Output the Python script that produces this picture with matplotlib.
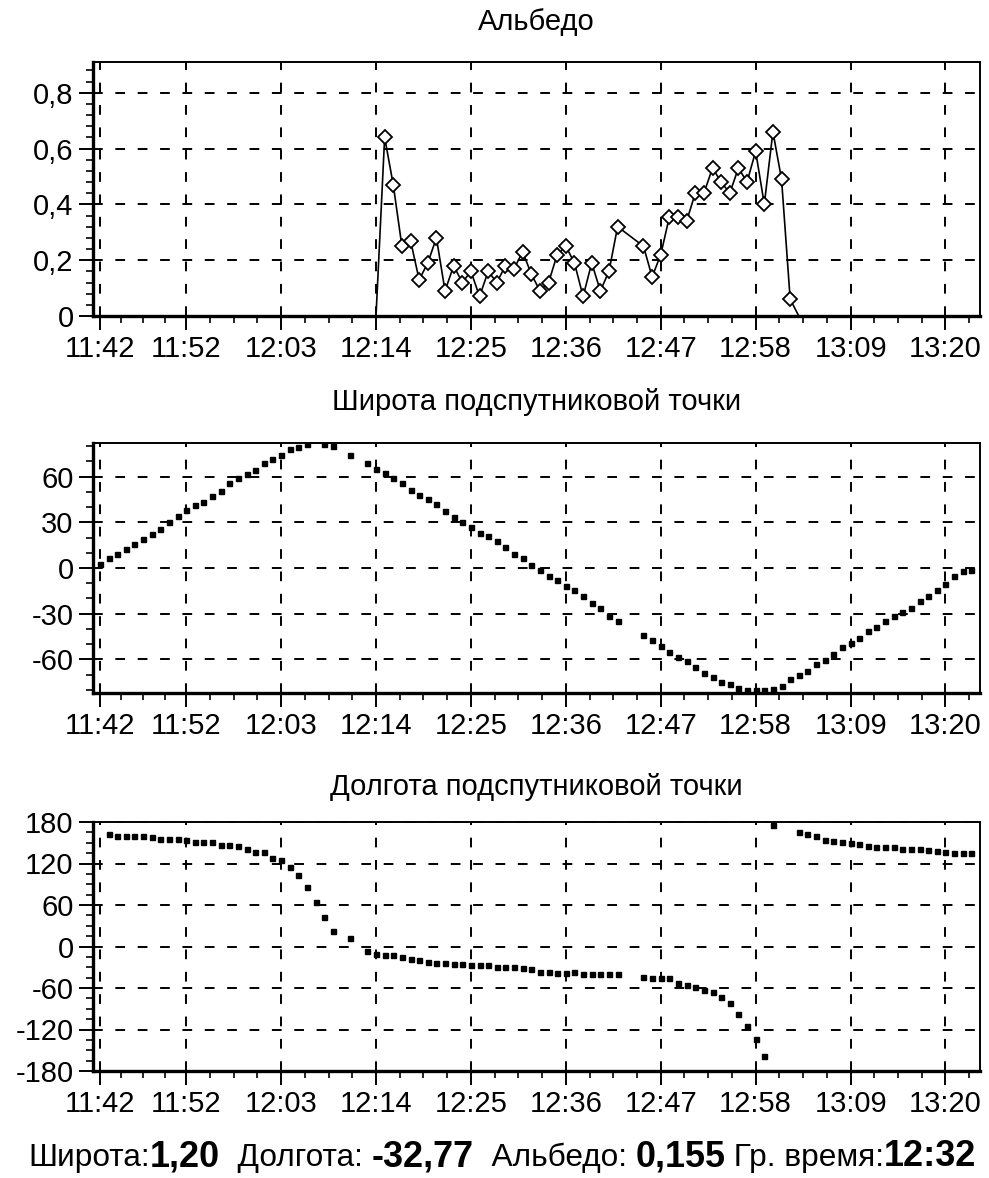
import matplotlib
matplotlib.use('Agg')
import matplotlib.pyplot as plt
from matplotlib.ticker import FixedLocator, MultipleLocator, FuncFormatter

plt.rcParams['font.family'] = ['Liberation Sans Narrow', 'Liberation Sans', 'DejaVu Sans']
plt.rcParams['axes.unicode_minus'] = False

# time axis in minutes after 11:42
tick_labels = ['11:42', '11:52', '12:03', '12:14', '12:25', '12:36',
               '12:47', '12:58', '13:09', '13:20']

albedo_t = [0, 32, 33, 34, 35, 36, 37, 38, 39, 40, 41, 42, 43, 44, 45, 46, 47,
            48, 49, 50, 51, 52, 53, 54, 55, 56, 57, 58, 59, 60,
            63, 64, 65, 66, 67, 68, 69, 70, 71, 72, 73, 74, 75, 76, 77, 78, 79, 80,
            81, 102]
albedo = [0, 0, 0.64, 0.47, 0.25, 0.27, 0.13, 0.19, 0.28, 0.09, 0.18, 0.12, 0.16,
          0.07, 0.16, 0.12, 0.18, 0.17, 0.23, 0.15, 0.09, 0.12, 0.22, 0.25, 0.19,
          0.07, 0.19, 0.09, 0.16, 0.32,
          0.25, 0.14, 0.22, 0.355, 0.355, 0.34, 0.44, 0.44, 0.53, 0.48, 0.44, 0.53,
          0.48, 0.59, 0.40, 0.66, 0.49, 0.06,
          0, 0]

lat_t = list(range(0, 25)) + [26, 27, 29] + list(range(31, 61)) + list(range(63, 102))
lat = [2.5, 6.5, 9.2, 12.5, 15.5, 19.0, 22.5, 25.7, 30.5, 33.8, 38.2, 41.5, 43.6,
       47.3, 50.8, 55.7, 58.9, 61.8, 64.4, 68.8, 71.4, 74.2, 78.1, 79.6, 81.2,
       81.2, 80.1, 74.2,
       68.8, 64.8, 62.6, 59.3, 55.7, 51.3, 48.0, 45.4, 42.1, 37.7, 33.4, 30.5,
       26.8, 22.9, 20.7, 17.4, 14.1, 9.4, 6.5, 2.2, -1.1, -5.0, -7.7, -11.6,
       -14.2, -18.6, -22.9, -26.2, -31.2, -35.0,
       -43.7, -47.4, -51.3, -55.3, -58.5, -61.2, -64.8, -68.7, -71.4, -74.9,
       -76.4, -78.6, -80.1, -80.1, -80.1, -79.7, -77.5, -73.1, -69.9, -67.7,
       -63.3, -60.5, -56.1, -51.7, -49.5, -46.0, -41.5, -38.6, -35.0, -31.7,
       -29.1, -26.2, -21.9, -18.1, -14.7, -10.3, -5.5, -2.2, -1.1]

lon_t = list(range(1, 28)) + [29] + list(range(31, 61)) + list(range(63, 79)) + list(range(81, 102))
lon = [162.6, 159.8, 159.8, 159.8, 159.8, 158.7, 155.0, 155.0, 155.0, 154.0,
       151.5, 151.5, 151.5, 146.7, 146.7, 145.3, 140.5, 137.1, 137.1, 128.4,
       125.1, 115.4, 103.4, 85.6, 64.8, 43.1, 22.8,
       11.9,
       -6.1, -10.8, -12.3, -12.3, -15.6, -18.5, -19.5, -22.0, -23.4, -23.4,
       -25.3, -25.3, -26.7, -26.7, -26.7, -29.2, -29.2, -29.2, -31.0, -33.0,
       -36.4, -36.4, -37.8, -37.8, -36.4, -39.8, -39.8, -39.8, -39.8, -39.8,
       -43.6, -46.0, -46.0, -46.0, -52.3, -55.7, -58.1, -62.9, -65.3, -73.5,
       -82.1, -97.6, -114.9, -134.2, -158.3, 175.7,
       166.0, 162.6, 159.8, 154.0, 153.0, 151.5, 150.1, 148.2, 145.3, 144.3,
       144.3, 144.3, 140.5, 140.5, 140.5, 139.5, 138.5, 137.1, 135.6, 135.6, 135.6]

info = [('Широта:', 'normal'), ('1,20', 'bold'), ('  Долгота: ', 'normal'),
        ('-32,77', 'bold'), ('  Альбедо: ', 'normal'), ('0,155', 'bold'),
        (' Гр. время:', 'normal'), ('12:32', 'bold')]

ticks = [int(s[:2]) * 60 + int(s[3:]) - (11 * 60 + 42) for s in tick_labels]
minors = []
for a, b in zip(ticks[:-1], ticks[1:]):
    minors += [a + (b - a) * k / 4 for k in (1, 2, 3)]
minors.append(ticks[-1] + (ticks[-1] - ticks[-2]) / 4)

W, H = 989, 1178
fig = plt.figure(figsize=(W / 100, H / 100), dpi=100)
FS = 21


def panel(top, bottom, title, title_y):
    ax = fig.add_axes([93 / W, 1 - bottom / H, (980 - 93) / W, (bottom - top) / H])
    ax.set_xlim(-0.8, 102)
    ax.xaxis.set_major_locator(FixedLocator(ticks))
    ax.xaxis.set_minor_locator(FixedLocator(minors))
    ax.set_xticklabels(tick_labels)
    ax.grid(True, which='major', color='k', linestyle=(0, (5, 6.5)), linewidth=1.4)
    ax.tick_params(axis='both', which='major', direction='out', length=10, width=1.4,
                   labelsize=FS, pad=4)
    ax.tick_params(axis='both', which='minor', direction='out', length=5, width=1.2)
    for s in ax.spines.values():
        s.set_linewidth(1.4)
    ax.spines['left'].set_linewidth(2.4)
    ax.spines['bottom'].set_linewidth(2.4)
    fig.text((93 + 980) / 2 / W, 1 - title_y / H, title, ha='center', va='center',
             fontsize=FS)
    return ax


ax1 = panel(62, 316, 'Альбедо', 22)
ax1.plot(albedo_t, albedo, color='k', lw=1.2, zorder=3)
mt = [t for t, v in zip(albedo_t, albedo) if v > 0]
mv = [v for v in albedo if v > 0]
ax1.plot(mt, mv, ls='none', marker='D', ms=7, mfc='white', mec='k', mew=1.3, zorder=4)
ax1.set_ylim(0, 0.91)
ax1.yaxis.set_major_locator(FixedLocator([0, 0.2, 0.4, 0.6, 0.8]))
ax1.yaxis.set_minor_locator(MultipleLocator(0.04))
ax1.yaxis.set_major_formatter(FuncFormatter(
    lambda v, _: '0' if abs(v) < 1e-9 else f'{v:.1f}'.replace('.', ',')))

ax2 = panel(443, 693, 'Широта подспутниковой точки', 402)
ax2.plot(lat_t, lat, ls='none', marker='s', ms=3.6, color='k', zorder=4)
ax2.set_ylim(-82, 82)
ax2.yaxis.set_major_locator(FixedLocator([-60, -30, 0, 30, 60]))
ax2.yaxis.set_minor_locator(MultipleLocator(10))

ax3 = panel(822, 1071, 'Долгота подспутниковой точки', 787)
ax3.plot(lon_t, lon, ls='none', marker='s', ms=3.6, color='k', zorder=4)
ax3.set_ylim(-180, 180)
ax3.yaxis.set_major_locator(FixedLocator([-180, -120, -60, 0, 60, 120, 180]))
ax3.yaxis.set_minor_locator(MultipleLocator(15))

# bottom status line, laid out piece by piece to span the width
texts = [fig.text(0, 1 - 1166 / H, s, fontsize=22 if w == 'normal' else 25,
                  fontweight=w, va='baseline') for s, w in info]
fig.canvas.draw()
r = fig.canvas.get_renderer()
total = sum(t.get_window_extent(r).width for t in texts)
scale = (975 - 28) / total
for t in texts:
    t.set_fontsize(t.get_fontsize() * scale)
fig.canvas.draw()
x = 28
for t in texts:
    t.set_x(x / W)
    x += t.get_window_extent(r).width

fig.savefig('out.png', dpi=100)
